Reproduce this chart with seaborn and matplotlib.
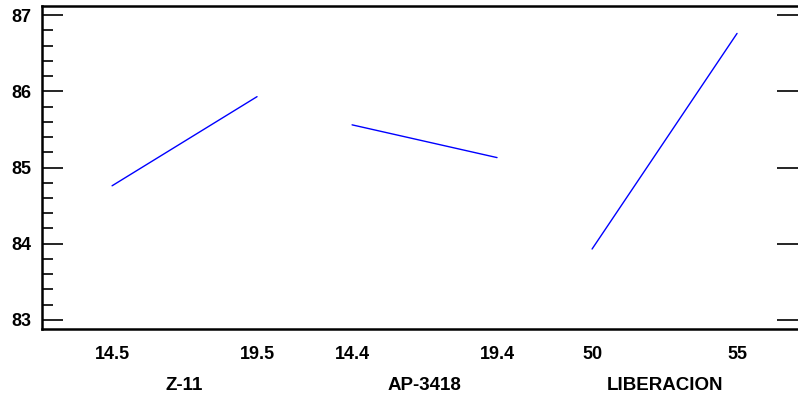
import numpy as np
import pandas as pd
import matplotlib
matplotlib.use('Agg')
import matplotlib.pyplot as plt
import matplotlib.transforms as mtransforms
from matplotlib.ticker import MultipleLocator
import seaborn as sns

# Main effects data
factors = ['Z-11', 'AP-3418', 'LIBERACION']
low_labels = ['14.5', '14.4', '50']
high_labels = ['19.5', '19.4', '55']
low_means = [84.76, 85.56, 83.93]
high_means = [85.93, 85.13, 86.76]

sns.set_style('white')
plt.rcParams['font.family'] = ['Liberation Sans', 'DejaVu Sans']
plt.rcParams['font.weight'] = 'bold'
plt.rcParams['text.color'] = 'black'
plt.rcParams['xtick.color'] = 'black'
plt.rcParams['ytick.color'] = 'black'

half = 0.302  # half spacing of the two levels inside one factor slot

rows = []
for i, f in enumerate(factors):
    rows.append({'factor': f, 'x': i - half, 'mean': low_means[i]})
    rows.append({'factor': f, 'x': i + half, 'mean': high_means[i]})
df = pd.DataFrame(rows)

fig = plt.figure(figsize=(7.98, 3.98), dpi=100)
ax = fig.add_axes([42 / 798, 69 / 398, 1 - 42 / 798, (329 - 6) / 398])

sns.lineplot(data=df, x='x', y='mean', hue='factor', units='factor', estimator=None,
             palette=['#0000ff'] * 3, linewidth=1.0, legend=False, ax=ax)

ax.set_xlim(-0.594, 2.556)
ax.set_ylim(82.88, 87.12)

xpos = [i + s for i in range(len(factors)) for s in (-half, half)]
xlab = [l for pair in zip(low_labels, high_labels) for l in pair]
ax.set_xticks(xpos)
ax.set_xticklabels(xlab, fontsize=13, fontweight='bold', color='black')
ax.tick_params(axis='x', length=0, pad=12)

ax.yaxis.set_major_locator(MultipleLocator(1))
ax.yaxis.set_minor_locator(MultipleLocator(0.2))
ax.set_yticklabels([f'{int(v)}' for v in ax.get_yticks()], fontsize=13,
                   fontweight='bold', color='black')
ax.tick_params(axis='y', which='major', direction='in', length=15, width=1.2,
               left=True, right=True, pad=8, colors='black')
ax.tick_params(axis='y', which='minor', direction='in', length=8, width=1.2,
               left=True, right=False, colors='black')
ax.set_xlabel('')
ax.set_ylabel('')

for side in ['left', 'bottom', 'top']:
    ax.spines[side].set_linewidth(1.8)
    ax.spines[side].set_color('black')
ax.spines['right'].set_visible(False)

trans = mtransforms.blended_transform_factory(ax.transData, fig.transFigure)
for i, f in enumerate(factors):
    ax.text(i, 1 - 385 / 398, f, transform=trans, ha='center', va='center',
            fontsize=13.5, fontweight='bold', color='black')

fig.savefig('out.png', dpi=100)
